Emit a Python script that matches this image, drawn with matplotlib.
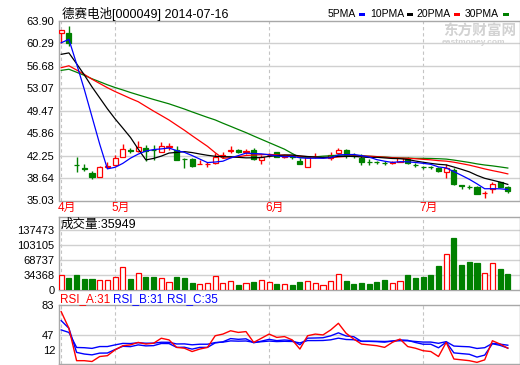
import numpy as np
import matplotlib as mpl
mpl.use('Agg')
import matplotlib.pyplot as plt
from matplotlib.patches import Rectangle
from matplotlib.transforms import offset_copy, blended_transform_factory

plt.rcParams['font.family'] = ['Liberation Sans', 'Noto Sans CJK SC', 'DejaVu Sans']

title = '德赛电池[000049] 2014-07-16'
months = ['4月', '5月', '6月', '7月']
month_idx = [0, 7, 27, 47]

price_ticks = [35.03, 38.64, 42.25, 45.86, 49.47, 53.07, 56.68, 60.29, 63.90]
vol_ticks = [0, 34368, 68737, 103105, 137473]
rsi_ticks = [83, 47, 12]

opens = [61.96, 61.9, 40.75, 40.2, 39.39, 38.85, 40.4, 40.68, 42.09, 43.15,
         43.0, 43.45, 43.2, 42.9, 43.65, 43.22, 41.75, 41.71, 40.9, 40.9,
         41.06, 42.25, 43.05, 43.22, 42.9, 43.1, 41.5, 42.35, 42.85, 42.1,
         42.2, 41.33, 40.41, 42.0, 41.95, 41.9, 42.6, 43.2, 42.2, 41.9,
         41.25, 41.2, 41.1, 41.1, 41.2, 41.7, 40.7, 40.4, 40.4, 40.25,
         39.6, 39.98, 37.45, 37.2, 37.28, 36.25, 36.9, 37.98, 37.28]
highs = [62.45, 63.1, 41.97, 40.96, 39.8, 40.5, 41.3, 42.4, 44.07, 43.5,
         44.6, 43.9, 43.9, 44.5, 44.3, 43.8, 41.9, 41.9, 41.6, 41.3,
         42.6, 42.8, 43.8, 43.3, 43.3, 43.4, 42.4, 42.7, 42.9, 42.4,
         42.3, 41.9, 42.1, 42.6, 42.2, 42.9, 43.4, 43.3, 42.6, 42.5,
         41.7, 41.4, 41.45, 41.45, 41.85, 41.95, 41.0, 40.6, 40.6, 40.4,
         40.9, 40.2, 37.6, 37.6, 37.4, 36.6, 38.0, 38.0, 37.3]
lows = [60.35, 59.8, 39.55, 39.76, 38.5, 38.8, 40.3, 40.6, 42.0, 42.6,
        42.8, 41.4, 41.6, 42.9, 43.1, 41.5, 40.25, 40.4, 40.85, 40.4,
        40.9, 41.9, 42.6, 42.7, 42.5, 41.6, 40.95, 42.1, 42.0, 41.9,
        41.7, 40.85, 40.41, 41.8, 41.8, 41.6, 42.5, 41.8, 41.9, 40.75,
        40.75, 40.9, 40.8, 40.9, 41.2, 40.9, 40.4, 40.1, 40.1, 39.6,
        38.6, 37.6, 36.95, 36.9, 36.05, 35.5, 36.3, 37.28, 36.3]
closes = [62.45, 60.4, 40.7, 40.1, 38.85, 40.47, 40.5, 41.93, 43.27, 43.05,
          43.7, 43.0, 43.1, 43.8, 43.75, 41.6, 41.65, 40.52, 40.95, 40.95,
          42.03, 42.3, 43.1, 42.85, 42.95, 41.7, 42.03, 42.4, 42.03, 42.15,
          42.0, 40.9, 42.03, 42.05, 42.1, 42.4, 43.2, 42.3, 42.15, 41.2,
          41.2, 41.15, 41.05, 41.17, 41.8, 41.06, 40.68, 40.36, 40.36, 39.7,
          40.25, 37.66, 37.4, 37.17, 36.09, 36.3, 37.7, 37.28, 36.63]

ma5 = [60.40, 60.95, 57.00, 52.90, 48.50, 44.10, 40.12, 40.37, 41.00, 41.84,
       42.49, 42.99, 43.22, 43.33, 43.47, 43.05, 42.78, 42.26, 41.69, 41.13,
       41.22, 41.35, 41.87, 42.25, 42.65, 42.58, 42.53, 42.39, 42.22, 42.06,
       42.12, 41.90, 41.82, 41.83, 41.82, 41.90, 42.36, 42.41, 42.43, 42.25,
       42.01, 41.60, 41.35, 41.15, 41.27, 41.25, 41.15, 41.01, 40.85, 40.43,
       40.27, 39.67, 39.07, 38.44, 37.71, 36.92, 36.93, 36.91, 36.80]
ma10 = [58.54, 58.77, 57.03, 55.23, 53.30, 51.54, 49.78, 48.16, 46.68, 45.17,
        43.30, 41.56, 41.80, 42.17, 42.66, 42.77, 42.89, 42.74, 42.51, 42.30,
        42.14, 42.07, 42.07, 41.97, 41.89, 41.90, 41.94, 42.13, 42.23, 42.35,
        42.35, 42.21, 42.10, 42.02, 41.94, 42.01, 42.13, 42.12, 42.13, 42.03,
        41.95, 41.98, 41.88, 41.79, 41.76, 41.63, 41.38, 41.18, 41.00, 40.85,
        40.76, 40.41, 40.04, 39.64, 39.07, 38.60, 38.30, 37.99, 37.62]
ma20 = [56.39, 56.70, 56.02, 55.31, 54.54, 53.85, 53.17, 52.55, 52.00, 51.44,
        50.92, 50.16, 49.41, 48.70, 47.98, 47.15, 46.33, 45.45, 44.59, 43.74,
        42.72, 41.81, 41.93, 42.07, 42.27, 42.34, 42.41, 42.44, 42.37, 42.33,
        42.24, 42.14, 42.08, 42.00, 41.91, 41.95, 42.03, 42.12, 42.18, 42.19,
        42.15, 42.09, 41.99, 41.91, 41.85, 41.82, 41.75, 41.65, 41.57, 41.44,
        41.36, 41.19, 40.96, 40.72, 40.42, 40.11, 39.84, 39.59, 39.31]
ma30 = [55.96, 56.14, 55.66, 55.16, 54.61, 54.13, 53.64, 53.20, 52.81, 52.40,
        52.02, 51.65, 51.28, 50.93, 50.58, 50.16, 49.74, 49.28, 48.84, 48.40,
        47.99, 47.46, 46.96, 46.45, 45.95, 45.40, 44.87, 44.34, 43.81, 43.28,
        42.59, 41.94, 41.99, 42.05, 42.16, 42.23, 42.32, 42.33, 42.29, 42.23,
        42.15, 42.08, 42.02, 41.93, 41.86, 41.85, 41.81, 41.81, 41.79, 41.75,
        41.69, 41.53, 41.34, 41.15, 40.92, 40.74, 40.60, 40.43, 40.25]

volumes = [34400, 28200, 34400, 25200, 25200, 23700, 22900, 29800, 52000, 25200,
           38200, 29800, 29800, 27500, 18300, 29800, 27500, 16800, 13700, 16800,
           31300, 16800, 20600, 11500, 16000, 19000, 22900, 18300, 13700, 13000,
           11500, 18300, 20600, 16000, 10700, 20600, 35900, 20600, 13700, 16000,
           13700, 18300, 22900, 16000, 20600, 34400, 27500, 29800, 34400, 55000,
           82500, 119000, 57300, 64100, 63000, 38200, 63000, 48100, 35949]

rsi_a = [75, 55, 16, 16, 15, 21, 22, 29, 34, 35,
         38, 36, 37, 43, 41, 32, 31, 27, 30, 32,
         46, 48, 52, 50, 51, 38, 43, 48, 44, 45,
         41, 30, 46, 48, 47, 53, 61, 49, 42, 36,
         35, 34, 32, 38, 42, 33, 31, 28, 27, 21,
         38, 18, 17, 16, 14, 17, 40, 36, 31]
rsi_b = [64.2, 55.0, 26.0, 24.0, 23.0, 25.1, 25.2, 29.4, 33.3, 32.9,
         35.0, 33.8, 34.1, 36.7, 36.6, 32.0, 32.2, 29.9, 32.0, 32.0,
         37.4, 38.7, 42.6, 41.7, 42.3, 37.5, 39.5, 41.7, 40.1, 40.9,
         40.2, 35.1, 43.1, 43.3, 43.6, 45.9, 49.5, 45.7, 44.8, 39.2,
         39.2, 38.9, 38.3, 39.6, 41.0, 40.5, 37.9, 35.8, 35.8, 31.5,
         38.3, 25.4, 24.5, 23.7, 20.3, 22.7, 36.4, 34.4, 31.2]
rsi_c = [53.0, 50.0, 31.9, 31.6, 30.8, 33.0, 33.0, 35.0, 36.8, 36.6,
         37.6, 37.0, 37.1, 38.2, 38.1, 36.1, 36.2, 35.1, 35.8, 35.8,
         37.8, 38.3, 39.8, 39.5, 39.7, 38.1, 38.8, 39.6, 39.0, 39.3,
         39.1, 37.4, 40.2, 40.2, 40.3, 41.1, 43.1, 41.5, 41.2, 39.4,
         39.4, 39.3, 39.1, 39.5, 40.0, 39.9, 39.1, 38.4, 38.4, 36.9,
         38.9, 33.6, 33.1, 32.7, 30.7, 31.6, 36.8, 35.9, 34.6]

RED = '#ff0000'
GREEN = '#008000'
BLUE = '#0000ff'
GRID = '#d0d0d0'
FRAME = '#a8a8a8'

W, H = 520.0, 365.0


def box(l, t, r, b):
    return [l / W, 1 - b / H, (r - l) / W, (b - t) / H]


fig = plt.figure(figsize=(5.2, 3.65), dpi=100)
ax = fig.add_axes(box(58.5, 21, 519.5, 200.5))
axv = fig.add_axes(box(58.5, 217, 519.5, 290))
axr = fig.add_axes(box(58.5, 305, 519.5, 364))

x = np.arange(len(closes))

for a in (ax, axv, axr):
    a.set_xlim(-0.35, 59.52)
    a.set_xticks([])
    a.tick_params(axis='y', length=0, labelsize=8, pad=3)
    for s in a.spines.values():
        s.set_color(FRAME)
        s.set_linewidth(1)
    for idx in month_idx:
        a.axvline(idx, color='#c4c4c4', lw=0.8, ls=(0, (3, 2.5)), zorder=0)

# price panel
ax.set_ylim(price_ticks[0], price_ticks[-1])
ax.set_yticks(price_ticks)
ax.set_yticklabels(['%.2f' % v for v in price_ticks])
for v in price_ticks[1:-1]:
    ax.axhline(v, color=GRID, lw=1, zorder=0)

for i in range(len(closes)):
    o, h, l, c = opens[i], highs[i], lows[i], closes[i]
    up = c >= o
    col = RED if up else GREEN
    ax.vlines(x[i], l, h, color=col, lw=1, zorder=2)
    ax.add_patch(Rectangle((x[i] - 0.33, min(o, c)), 0.66, abs(c - o),
                           facecolor='white' if up else col, edgecolor=col,
                           lw=0.9, zorder=3))

ax.plot(x, ma30, color=GREEN, lw=0.9, zorder=4)
ax.plot(x, ma20, color=RED, lw=0.9, zorder=4)
ax.plot(x, ma10, color='black', lw=0.9, zorder=4)
ax.plot(x, ma5, color=BLUE, lw=0.9, zorder=4)

tr = blended_transform_factory(ax.transData, ax.transAxes)
for m, idx in zip(months, month_idx):
    ax.text(idx - 0.45, -0.044, m, transform=tr, color=RED, fontsize=8.5,
            ha='left', va='center')

fig.text(62 / W, 1 - 14 / H, title, fontsize=9, ha='left', va='center')

# legend: label, colour, text end, marker start (pixels)
legend = [('5PMA', BLUE, 356, 359), ('10PMA', 'black', 404, 407),
          ('20PMA', RED, 451, 454), ('30PMA', GREEN, 499, 503)]
for name, col, px, mx in legend:
    fig.text(px / W, 1 - 14 / H, name, fontsize=7.5, ha='right', va='center')
    fig.patches.append(Rectangle((mx / W, 1 - 15.5 / H), 6 / W, 3 / H,
                                 transform=fig.transFigure,
                                 facecolor=col, edgecolor='none'))

fig.text(443 / W, 1 - 32 / H, '东方财富网', color='#d2d2d2', fontsize=10.5,
         fontweight='bold', ha='left', va='center')
fig.text(442 / W, 1 - 43 / H, 'eastmoney.com', color='#d2d2d2', fontsize=6,
         fontweight='bold', ha='left', va='center')

# volume panel
axv.set_ylim(0, vol_ticks[-1] * 73 / 60)
axv.set_yticks(vol_ticks)
axv.set_yticklabels([str(v) for v in vol_ticks])
for v in vol_ticks[1:]:
    axv.axhline(v, color=GRID, lw=1, zorder=0)
for i in range(len(volumes)):
    up = closes[i] >= opens[i]
    col = RED if up else GREEN
    axv.bar(x[i], volumes[i], width=0.66, facecolor='white' if up else col,
            edgecolor=col, lw=0.9, zorder=3)
axv.text(0.004, 0.89, '成交量:%d' % volumes[-1], transform=axv.transAxes,
         fontsize=9, ha='left', va='center')

# RSI panel
axr.set_ylim(12, 83)
axr.set_yticks(rsi_ticks[:2])
axr.set_yticklabels([str(v) for v in rsi_ticks[:2]])
axr.axhline(47, color=GRID, lw=1, zorder=0)
t12 = offset_copy(axr.get_yaxis_transform(), fig=fig, x=-3, y=13, units='dots')
axr.text(0, rsi_ticks[2], str(rsi_ticks[2]), transform=t12, fontsize=8,
         ha='right', va='center')
axr.plot(x, rsi_c, color=BLUE, lw=1, zorder=3)
axr.plot(x, rsi_b, color=BLUE, lw=1, zorder=3)
axr.plot(x, rsi_a, color=RED, lw=1, zorder=4)

rsi_leg = [('RSI_A', rsi_a, RED, 60), ('RSI_B', rsi_b, BLUE, 113),
           ('RSI_C', rsi_c, BLUE, 167)]
for name, vals, col, px in rsi_leg:
    fig.text(px / W, 1 - 299 / H, '%s:%d' % (name, round(vals[-1])),
             color=col, fontsize=8.5, ha='left', va='center')

fig.savefig('out.png', dpi=100)
